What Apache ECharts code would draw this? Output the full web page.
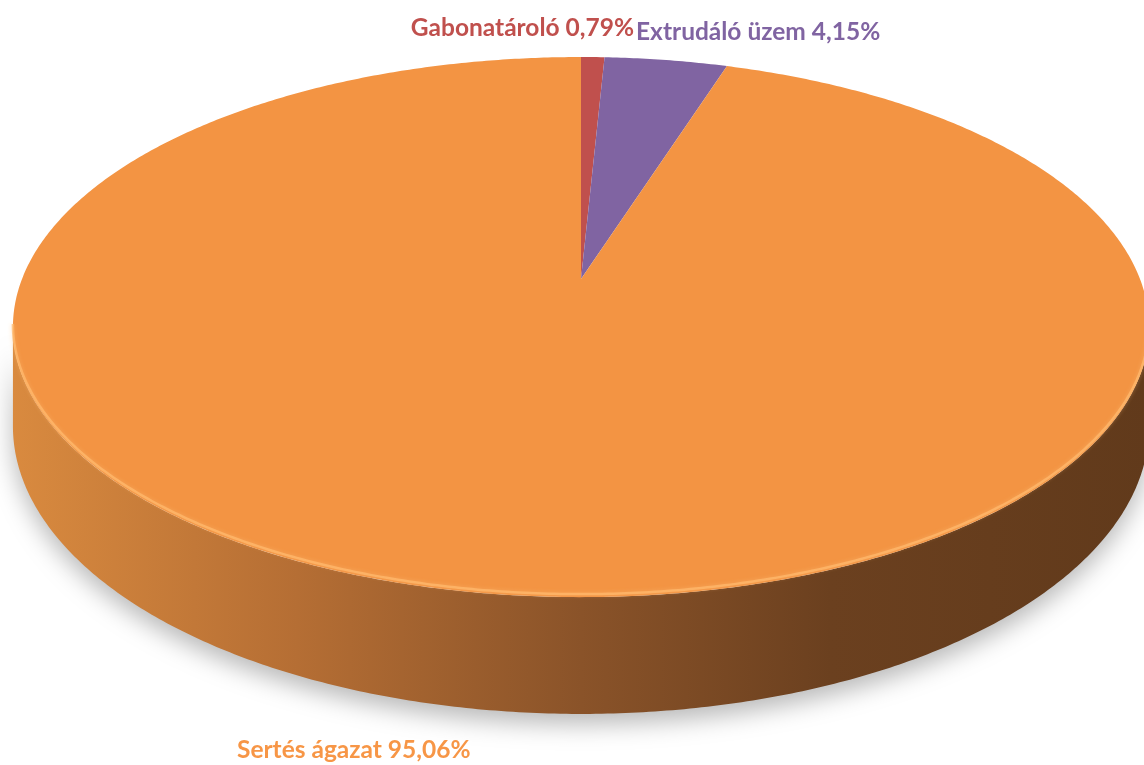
<!DOCTYPE html>
<html>
<head>
<meta charset="utf-8">
<script src="https://cdn.jsdelivr.net/npm/echarts@6/dist/echarts.min.js"></script>
<style>
  html, body { margin: 0; padding: 0; background: #fff; }
  #chart { width: 1144px; height: 765px; }
</style>
</head>
<body>
<div id="chart"></div>
<script>
// data
const categories = ['Gabonatároló', 'Extrudáló üzem', 'Sertés ágazat'];
const shares = [0.79, 4.15, 95.06];
const colors = ['#c0504d', '#8064a2', '#f39443'];
const labelColors = ['#c0504d', '#8064a2', '#f79646'];

// layout of the tilted disc (projected circle)
const CX = 581, CY = 279;   // pie centre on screen
const RX = 559, RY = 261.5; // projected radii
const PERSP = 0.178;        // perspective factor
const DEPTH = 96;           // thickness
const LABEL_POS = [
  { x: 634, y: 28, align: 'right' },
  { x: 636, y: 32, align: 'left' },
  { x: 237, y: 750, align: 'left' },
];

const total = shares.reduce((a, b) => a + b, 0);
const cum = [0];
shares.forEach((v, i) => cum.push(cum[i] + v));

function proj(theta, down) {
  const u = Math.sin(theta), v = Math.cos(theta);
  const d = 1 + PERSP * v;
  return [CX + RX * u / d, CY - RY * v / d + (down ? DEPTH / d : 0)];
}

function arc(a, b, down) {
  const pts = [];
  const n = Math.max(2, Math.ceil((b - a) / (Math.PI / 360)));
  for (let j = 0; j <= n; j++) pts.push(proj(a + (b - a) * j / n, down));
  return pts;
}

const frontStart = Math.acos(-PERSP);
const frontEnd = 2 * Math.PI - frontStart;

function fmt(v) {
  return v.toFixed(2).replace('.', ',') + '%';
}

function renderItem(params, api) {
  const i = params.dataIndex;
  const start = cum[i] / total * 2 * Math.PI;
  const end = (cum[i] + api.value(0)) / total * 2 * Math.PI;
  const children = [];

  const a = Math.max(start, frontStart), b = Math.min(end, frontEnd);
  if (b > a) {
    const side = arc(a, b, false).concat(arc(a, b, true).reverse());
    children.push({
      type: 'polygon',
      shape: { points: side },
      style: {
        fill: new echarts.graphic.LinearGradient(0, 0, 1, 0, [
          { offset: 0, color: '#d98a3f' },
          { offset: 0.25, color: '#b56e34' },
          { offset: 0.5, color: '#8a5329' },
          { offset: 0.72, color: '#6b401f' },
          { offset: 1, color: '#613a1b' },
        ]),
        shadowColor: 'rgba(0,0,0,0.28)',
        shadowBlur: 24,
        shadowOffsetY: 10,
      },
    });
  }

  const top = [[CX, CY]].concat(arc(start, end, false));
  children.push({
    type: 'polygon',
    shape: { points: top },
    style: { fill: colors[i] },
  });

  if (b > a) {
    const rim = arc(a, b, false).map(p => [p[0], p[1] - 3]);
    children.push({
      type: 'polyline',
      shape: { points: rim },
      style: { stroke: 'rgba(255,185,110,0.75)', lineWidth: 2.5, fill: null, shadowColor: 'rgba(255,190,120,0.6)', shadowBlur: 4 },
    });
  }

  const lp = LABEL_POS[i];
  children.push({
    type: 'text',
    x: lp.x,
    y: lp.y,
    style: {
      text: categories[i] + ' ' + fmt(api.value(0)),
      fill: labelColors[i],
      font: 'bold 24.5px Lato, "Open Sans", sans-serif',
      align: lp.align,
      verticalAlign: 'middle',
    },
  });

  return { type: 'group', children };
}

const chart = echarts.init(document.getElementById('chart'), null, { renderer: 'canvas' });
chart.setOption({
  backgroundColor: '#ffffff',
  animation: false,
  series: [{
    type: 'custom',
    coordinateSystem: 'none',
    renderItem,
    data: shares.map(v => [v]),
  }],
});
</script>
</body>
</html>
